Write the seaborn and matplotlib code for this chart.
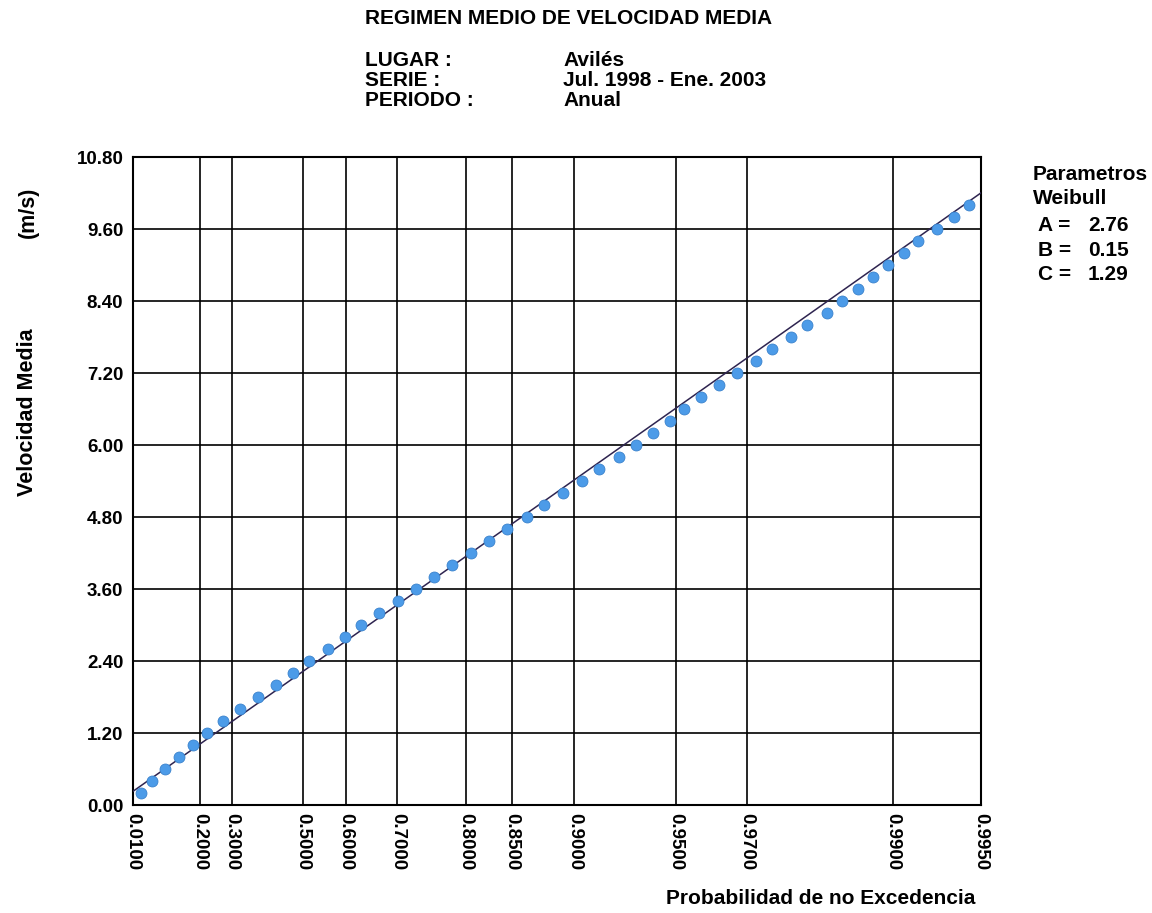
import numpy as np
import pandas as pd
import seaborn as sns
import matplotlib.pyplot as plt

# Weibull parameters shown on the chart
param_a = 2.76
param_b = 0.15
param_c = 1.29

# observed points: non-exceedance probability and mean velocity (m/s)
prob = [0.0268, 0.0550, 0.0929, 0.1353, 0.1780, 0.2238, 0.2736, 0.3245, 0.3777, 0.4286,
        0.4734, 0.5158, 0.5598, 0.5985, 0.6326, 0.6675, 0.7005, 0.7314, 0.7578, 0.7821,
        0.8063, 0.8267, 0.8450, 0.8635, 0.8782, 0.8920, 0.9048, 0.9153, 0.9259, 0.9340,
        0.9415, 0.9479, 0.9528, 0.9581, 0.9633, 0.9678, 0.9719, 0.9750, 0.9783, 0.9808,
        0.9834, 0.9852, 0.9869, 0.9883, 0.9896, 0.9908, 0.9918, 0.9929, 0.9938, 0.9945]
velocity = [0.2, 0.4, 0.6, 0.8, 1.0, 1.2, 1.4, 1.6, 1.8, 2.0,
            2.2, 2.4, 2.6, 2.8, 3.0, 3.2, 3.4, 3.6, 3.8, 4.0,
            4.2, 4.4, 4.6, 4.8, 5.0, 5.2, 5.4, 5.6, 5.8, 6.0,
            6.2, 6.4, 6.6, 6.8, 7.0, 7.2, 7.4, 7.6, 7.8, 8.0,
            8.2, 8.4, 8.6, 8.8, 9.0, 9.2, 9.4, 9.6, 9.8, 10.0]

x_ticks = [0.01, 0.2, 0.3, 0.5, 0.6, 0.7, 0.8, 0.85, 0.9, 0.95, 0.97, 0.99, 0.995]
y_ticks = [0.0, 1.2, 2.4, 3.6, 4.8, 6.0, 7.2, 8.4, 9.6, 10.8]

lugar = "Avilés"
serie = "Jul. 1998 - Ene. 2003"
periodo = "Anual"


def weib_fwd(p):
    p = np.clip(np.asarray(p, dtype=float), 1e-9, 1 - 1e-12)
    return (-np.log(1 - p)) ** (1 / param_c)


def weib_inv(w):
    w = np.clip(np.asarray(w, dtype=float), 0, None)
    return 1 - np.exp(-w ** param_c)


points_df = pd.DataFrame({'p': prob, 'v': velocity})
fit_p = np.array([x_ticks[0], x_ticks[-1]])
fit_df = pd.DataFrame({'p': fit_p, 'v': param_b + param_a * weib_fwd(fit_p)})

sns.set_style('white')
plt.rcParams['font.family'] = ['Liberation Sans', 'DejaVu Sans']
plt.rcParams['font.weight'] = 'bold'
plt.rcParams['text.color'] = 'black'
plt.rcParams['xtick.color'] = 'black'
plt.rcParams['ytick.color'] = 'black'

fig = plt.figure(figsize=(11.52, 9.13), dpi=100)
ax = fig.add_axes([133 / 1152, 1 - 805 / 913, 848 / 1152, 648 / 913])

sns.lineplot(data=fit_df, x='p', y='v', ax=ax, color='#2e2450', lw=1.1, zorder=3)
sns.scatterplot(data=points_df, x='p', y='v', ax=ax, color='#4c9be8', edgecolor='#3a82cc',
                linewidth=0.6, s=62, zorder=4)

ax.set_xscale('function', functions=(weib_fwd, weib_inv))
ax.set_xlim(x_ticks[0], x_ticks[-1])
ax.set_ylim(y_ticks[0], y_ticks[-1])
ax.set_xticks(x_ticks)
ax.set_xticklabels([f'{t:.4f}' for t in x_ticks], rotation=-90, fontsize=13.5, fontweight='bold')
ax.set_yticks(y_ticks)
ax.set_yticklabels([f'{t:.2f}' for t in y_ticks], fontsize=13.5, fontweight='bold')
ax.minorticks_off()
ax.tick_params(axis='both', length=0)
ax.tick_params(axis='x', pad=6)
ax.tick_params(axis='y', pad=7)
ax.grid(True, color='black', lw=1.2)
for s in ax.spines.values():
    s.set_color('black')
    s.set_linewidth(1.5)
ax.set_xlabel('')
ax.set_ylabel('')

# header block
fig.text(365 / 1152, 1 - 19 / 913, 'REGIMEN MEDIO DE VELOCIDAD MEDIA', fontsize=15,
         fontweight='bold', va='center', ha='left')
for yy, lab, val in [(61, 'LUGAR :', lugar), (80, 'SERIE :', serie), (100, 'PERIODO :', periodo)]:
    fig.text(365 / 1152, 1 - yy / 913, lab, fontsize=15, fontweight='bold', va='center')
    fig.text(563 / 1152, 1 - yy / 913, val, fontsize=15, fontweight='bold', va='center')

# axis titles
fig.text(28 / 1152, 1 - 412 / 913, 'Velocidad Media', rotation=90, fontsize=15.5,
         fontweight='bold', va='center', ha='center')
fig.text(28 / 1152, 1 - 212 / 913, '(m/s)', rotation=90, fontsize=15.5,
         fontweight='bold', va='center', ha='center')
fig.text(975 / 1152, 1 - 898 / 913, 'Probabilidad de no Excedencia', fontsize=15,
         fontweight='bold', va='center', ha='right')

# Weibull parameters box
fig.text(1033 / 1152, 1 - 175 / 913, 'Parametros', fontsize=15, fontweight='bold', va='center')
fig.text(1033 / 1152, 1 - 198 / 913, 'Weibull', fontsize=15, fontweight='bold', va='center')
for yy, lab, val in [(225, 'A =', param_a), (250, 'B =', param_b), (274, 'C =', param_c)]:
    fig.text(1038 / 1152, 1 - yy / 913, lab, fontsize=15, fontweight='bold', va='center')
    fig.text(1088 / 1152, 1 - yy / 913, f'{val:.2f}', fontsize=15, fontweight='bold', va='center')

fig.savefig('out.png', dpi=100, facecolor='white')
